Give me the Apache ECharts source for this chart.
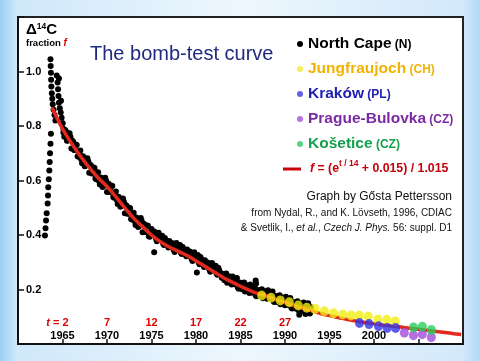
<!DOCTYPE html>
<html>
<head>
<meta charset="utf-8">
<script src="https://cdn.jsdelivr.net/npm/echarts@6/dist/echarts.min.js"></script>
<style>
html,body{margin:0;padding:0;}
body{width:480px;height:361px;overflow:hidden;
background:linear-gradient(to right,#9ccff3 0px,#cfe8fa 17px,#eef7fd 240px,#d3e9fa 462px,#b0daf7 480px);}
#c{width:480px;height:361px;}
</style>
</head>
<body>
<div id="c"></div>
<script>
// ---- data ----
const northCape = [
 [1963.03,0.398],[1963.09,0.425],[1963.15,0.453],[1963.22,0.48],[1963.33,0.516],[1963.37,0.545],[1963.4,0.575],[1963.46,0.605],[1963.52,0.637],[1963.56,0.668],[1963.6,0.70],[1963.65,0.735],[1963.7,0.772],
 [1963.65,1.045],[1963.67,1.02],[1963.7,0.995],[1963.72,0.97],[1963.75,0.945],[1963.8,0.92],[1963.85,0.90],[1963.9,0.88],[1964.0,0.86],[1964.1,0.84],[1964.2,0.82],[1964.35,0.985],[1964.45,0.96],[1964.5,0.935],[1964.55,0.91],[1964.6,0.885],[1964.7,0.865],[1964.8,0.85],[1964.9,0.83],[1965.0,0.81],[1965.1,0.79],[1965.2,0.775],[1964.6,0.974],[1964.83,0.893],
 [1965,0.81],[1965.2,0.761],[1965.4,0.78],[1965.6,0.747],[1965.8,0.773],
 [1966,0.717],[1966.2,0.742],[1966.4,0.712],[1966.6,0.73],[1966.8,0.687],
 [1967,0.71],[1967.2,0.663],[1967.4,0.684],[1967.6,0.654],[1967.8,0.682],
 [1968,0.628],[1968.2,0.655],[1968.4,0.627],[1968.6,0.646],[1968.8,0.605],
 [1969,0.63],[1969.2,0.585],[1969.4,0.608],[1969.6,0.579],[1969.8,0.61],
 [1970,0.558],[1970.2,0.587],[1970.4,0.56],[1970.6,0.58],[1970.8,0.537],
 [1971,0.56],[1971.2,0.514],[1971.4,0.536],[1971.6,0.506],[1971.8,0.534],
 [1972,0.48],[1972.2,0.507],[1972.4,0.479],[1972.6,0.498],[1972.8,0.457],
 [1973,0.482],[1973.2,0.437],[1973.4,0.46],[1973.6,0.432],[1973.8,0.462],
 [1974,0.41],[1974.2,0.439],[1974.4,0.413],[1974.6,0.434],[1974.8,0.394],
 [1975,0.422],[1975.2,0.399],[1975.4,0.404],[1975.6,0.377],[1975.8,0.408],
 [1976,0.383],[1976.2,0.397],[1976.4,0.363],[1976.6,0.381],[1976.8,0.372],
 [1977,0.378],[1977.2,0.356],[1977.4,0.363],[1977.6,0.338],[1977.8,0.371],
 [1978,0.348],[1978.2,0.363],[1978.4,0.33],[1978.6,0.349],[1978.8,0.34],
 [1979,0.347],[1979.2,0.325],[1979.4,0.331],[1979.6,0.305],[1979.8,0.337],
 [1980,0.313],[1980.2,0.327],[1980.4,0.293],[1980.6,0.311],[1980.8,0.301],
 [1981,0.307],[1981.2,0.285],[1981.4,0.291],[1981.6,0.265],[1981.8,0.297],
 [1982,0.273],[1982.2,0.287],[1982.4,0.254],[1982.6,0.272],[1982.8,0.261],
 [1983,0.257],[1983.2,0.234],[1983.4,0.259],[1983.6,0.231],[1983.8,0.248],
 [1984,0.218],[1984.2,0.243],[1984.4,0.22],[1984.6,0.242],[1984.8,0.203],
 [1985,0.224],[1985.2,0.201],[1985.4,0.226],[1985.6,0.199],[1985.8,0.216],
 [1986,0.187],[1986.2,0.213],[1986.4,0.19],[1986.6,0.214],[1986.8,0.175],[1986.7,0.233],[1986.75,0.222],
 [1987,0.197],[1987.2,0.175],[1987.4,0.201],[1987.6,0.175],[1987.8,0.194],
 [1988,0.166],[1988.2,0.192],[1988.4,0.169],[1988.6,0.193],[1988.8,0.154],
 [1989,0.175],[1989.2,0.153],[1989.4,0.179],[1989.6,0.153],[1989.8,0.17],
 [1990,0.142],[1990.2,0.168],[1990.4,0.145],[1990.6,0.169],[1990.8,0.13],
 [1991,0.152],[1991.2,0.13],[1991.4,0.157],[1991.6,0.131],[1991.8,0.149],
 [1992,0.121],[1992.2,0.147],[1992.4,0.126],[1992.6,0.15],[1992.8,0.112],
 [1975.3,0.337],[1980.1,0.262],[1991.6,0.107],[1992.3,0.11],
 [1965.1,0.776],[1965.3,0.785],[1965.5,0.746],[1965.7,0.758],[1965.9,0.760],
 [1966.1,0.746],[1966.3,0.712],[1966.5,0.732],[1966.7,0.689],[1966.9,0.698],
 [1967.1,0.678],[1967.3,0.689],[1967.5,0.652],[1967.7,0.666],[1967.9,0.670],
 [1968.1,0.658],[1968.3,0.626],[1968.5,0.648],[1968.7,0.607],[1968.9,0.618],
 [1969.1,0.598],[1969.3,0.611],[1969.5,0.576],[1969.7,0.592],[1969.9,0.599],
 [1970.1,0.589],[1970.3,0.558],[1970.5,0.582],[1970.7,0.539],[1970.9,0.548],
 [1971.1,0.528],[1971.3,0.540],[1971.5,0.504],[1971.7,0.518],[1971.9,0.522],
 [1972.1,0.510],[1972.3,0.478],[1972.5,0.500],[1972.7,0.459],[1972.9,0.470],
 [1973.1,0.451],[1973.3,0.464],[1973.5,0.429],[1973.7,0.445],[1973.9,0.451],
 [1974.1,0.441],[1974.3,0.411],[1974.5,0.435],[1974.7,0.395],[1974.9,0.407],
 [1975.1,0.410],[1975.3,0.413],[1975.5,0.386],[1975.7,0.392],[1975.9,0.394],
 [1976.1,0.391],[1976.3,0.369],[1976.5,0.389],[1976.7,0.367],[1976.9,0.354],
 [1977.1,0.366],[1977.3,0.371],[1977.5,0.345],[1977.7,0.353],[1977.9,0.357],
 [1978.1,0.356],[1978.3,0.335],[1978.5,0.356],[1978.7,0.335],[1978.9,0.322],
 [1979.1,0.335],[1979.3,0.339],[1979.5,0.313],[1979.7,0.320],[1979.9,0.323],
 [1980.1,0.321],[1980.3,0.299],[1980.5,0.319],[1980.7,0.297],[1980.9,0.283],
 [1981.1,0.295],[1981.3,0.299],[1981.5,0.273],[1981.7,0.280],[1981.9,0.283],
 [1982.1,0.281],[1982.3,0.260],[1982.5,0.280],[1982.7,0.258],[1982.9,0.243],
 [1983.1,0.249],[1983.3,0.256],[1983.5,0.225],[1983.7,0.243],[1983.9,0.230],
 [1984.1,0.248],[1984.3,0.219],[1984.5,0.230],[1984.7,0.207],[1984.9,0.226],
 [1985.1,0.217],[1985.3,0.224],[1985.5,0.193],[1985.7,0.212],[1985.9,0.199],
 [1986.1,0.218],[1986.3,0.189],[1986.5,0.201],[1986.7,0.179],[1986.9,0.198],
 [1987.1,0.190],[1987.3,0.198],[1987.5,0.168],[1987.7,0.188],[1987.9,0.177],
 [1988.1,0.197],[1988.3,0.168],[1988.5,0.180],[1988.7,0.157],[1988.9,0.176],
 [1989.1,0.168],[1989.3,0.176],[1989.5,0.146],[1989.7,0.166],[1989.9,0.153],
 [1990.1,0.173],[1990.3,0.144],[1990.5,0.156],[1990.7,0.134],[1990.9,0.153],
 [1991.1,0.145],[1991.3,0.154],[1991.5,0.124],[1991.7,0.144],[1991.9,0.132],
 [1992.1,0.152],[1992.3,0.125],[1992.5,0.137],[1992.7,0.115],[1992.9,0.135]
];
const jungfraujoch = [[1987.38,0.178],[1988.43,0.170],[1989.47,0.160],[1990.48,0.153],[1991.49,0.141],[1992.44,0.133],[1993.37,0.129],[1994.42,0.120],[1995.47,0.113],[1996.48,0.108],[1997.42,0.105],[1998.35,0.105],[1999.36,0.101],[2000.42,0.090],[2001.43,0.089],[2002.39,0.083]];
const krakow = [[1998.37,0.077],[1999.44,0.073],[2000.51,0.065],[2001.48,0.059],[2002.43,0.059]];
const prague = [[2003.41,0.041],[2004.44,0.032],[2005.43,0.036],[2006.44,0.025]];
const kosetice = [[2004.44,0.061],[2005.43,0.063],[2006.44,0.051]];
const fitYears = [1963.8,1964,1965,1966,1967,1968,1969,1970,1971,1972,1973,1974,1975,1976,1977,1978,1979,1980,1981,1982,1983,1984,1985,1986,1987,1988,1989,1990,1991,1992,1993,1994,1995,1996,1997,1998,1999,2000,2001,2002,2003,2004,2005,2006,2007,2008,2009,2009.8];
const fitValues = [0.867,0.855,0.79,0.737,0.69,0.648,0.61,0.578,0.54,0.50,0.462,0.43,0.40,0.375,0.356,0.34,0.325,0.305,0.285,0.265,0.245,0.228,0.212,0.197,0.185,0.176,0.163,0.152,0.141,0.131,0.122,0.112,0.104,0.097,0.09,0.084,0.079,0.074,0.07,0.066,0.062,0.058,0.054,0.05,0.046,0.042,0.038,0.035];
const yearLabels = [1965,1970,1975,1980,1985,1990,1995,2000];
const tLabels = ['2','7','12','17','22','27'];
const yLabels = ['0.2','0.4','0.6','0.8','1.0'];

const FF = 'Liberation Sans, Arial, sans-serif';
const chart = echarts.init(document.getElementById('c'), null, {renderer:'canvas'});
const legendTags = {
 'North Cape':['nc','North Cape','(N)'],
 'Jungfraujoch':['jf','Jungfraujoch','(CH)'],
 'Kraków':['kr','Kraków','(PL)'],
 'Prague-Bulovka':['pb','Prague-Bulovka','(CZ)'],
 'Košetice':['ko','Košetice','(CZ)']
};
const legCols = {nc:'#000000',jf:'#f2b300',kr:'#1f22b0',pb:'#7a2ba3',ko:'#14a04c'};
const rich1 = {};
Object.keys(legCols).forEach(k=>{
  rich1[k] = {color:legCols[k],fontSize:15.5,fontWeight:'bold',fontFamily:FF,lineHeight:16};
  rich1[k+'s'] = {color:legCols[k],fontSize:12,fontWeight:'bold',fontFamily:FF,lineHeight:16,padding:[2,0,0,0]};
});
const fitPoints = fitYears.map((y,i)=>[y,fitValues[i]]);

chart.setOption({
  animation:false,
  backgroundColor:'transparent',
  title:[
    {text:'The bomb-test curve',left:90,top:44,padding:0,
     textStyle:{fontSize:20,fontWeight:'normal',color:'#1f2a80',fontFamily:FF}},
    {text:'{a|Δ}{s|14}{a|C}\n{b|fraction }{f|f}',left:26,top:22,padding:0,
     textStyle:{rich:{
       a:{fontSize:15,fontWeight:'bold',color:'#000',fontFamily:FF,lineHeight:16},
       s:{fontSize:8.5,fontWeight:'bold',color:'#000',fontFamily:FF,lineHeight:9,verticalAlign:'top'},
       b:{fontSize:9.5,fontWeight:'bold',color:'#000',fontFamily:FF,lineHeight:11},
       f:{fontSize:10,fontWeight:'bold',fontStyle:'italic',color:'#e00000',fontFamily:FF,lineHeight:11}
     }}},
    {text:'Graph by Gősta Pettersson',right:28,top:191,padding:0,
     textStyle:{fontSize:12,fontWeight:'normal',color:'#111',fontFamily:FF}},
    {text:'from Nydal, R., and K. Lövseth, 1996, CDIAC',right:28,top:208,padding:0,
     textStyle:{fontSize:10,fontWeight:'normal',color:'#111',fontFamily:FF}},
    {text:'& Svetlik, I., {i|et al.}, {i|Czech J. Phys.} 56: suppl. D1',right:28,top:223,padding:0,
     textStyle:{fontSize:10,fontWeight:'normal',color:'#111',fontFamily:FF,
       rich:{i:{fontSize:10,fontStyle:'italic',color:'#111',fontFamily:FF}}}}
  ],
  legend:[
    {orient:'vertical',left:297,top:36,padding:0,itemWidth:6,itemHeight:6,itemGap:9,selectedMode:false,
     data:[
      {name:'North Cape',icon:'circle',itemStyle:{color:'#000'}},
      {name:'Jungfraujoch',icon:'circle',itemStyle:{color:'#eeee30'}},
      {name:'Kraków',icon:'circle',itemStyle:{color:'#3838e0'}},
      {name:'Prague-Bulovka',icon:'circle',itemStyle:{color:'#a84ee0'}},
      {name:'Košetice',icon:'circle',itemStyle:{color:'#2ccc60'}}
     ],
     formatter:function(n){const t=legendTags[n];return '{'+t[0]+'|'+t[1]+'} {'+t[0]+'s|'+t[2]+'}';},
     textStyle:{rich:rich1}},
    {orient:'vertical',left:283,top:159,padding:0,itemWidth:18,itemHeight:3,selectedMode:false,
     data:[{name:'fit',icon:'rect',itemStyle:{color:'#c8000a'}}],
     formatter:function(){return '{fi|f}{fr| = (e}{fs|t / 14}{fr| + 0.015) / 1.015}';},
     textStyle:{rich:{
       fi:{fontSize:12.3,fontWeight:'bold',fontStyle:'italic',color:'#c8000a',fontFamily:FF,lineHeight:20,padding:[0,0,0,4]},
       fr:{fontSize:12.3,fontWeight:'bold',color:'#c8000a',fontFamily:FF,lineHeight:20},
       fs:{fontSize:8.5,fontWeight:'bold',color:'#c8000a',fontFamily:FF,lineHeight:10,verticalAlign:'top'}
     }}}
  ],
  grid:{left:18,right:17,top:17,bottom:17,show:true,backgroundColor:'#ffffff',borderColor:'#222',borderWidth:2},
  xAxis:{type:'value',min:1960,max:2010,interval:5,
    axisLine:{show:true,lineStyle:{color:'#111',width:2}},
    axisTick:{show:true,inside:true,length:5,lineStyle:{color:'#111',width:1.5}},
    splitLine:{show:false},
    axisLabel:{inside:true,margin:2,
      formatter:function(v){
        const i = yearLabels.indexOf(v);
        if(i<0) return '';
        let s='';
        if(i<tLabels.length){
          s = (i===0 ? '{ti|t}{t| = '+tLabels[i]+'}{pad| }' : '{t|'+tLabels[i]+'}') + '\n';
        }
        return s+'{y|'+v+'}';
      },
      rich:{
        ti:{fontSize:11,fontWeight:'bold',fontStyle:'italic',color:'#e00000',fontFamily:FF,lineHeight:12.5},
        t:{fontSize:11,fontWeight:'bold',color:'#e00000',fontFamily:FF,lineHeight:12.5},
        pad:{width:10,lineHeight:12.5},
        y:{fontSize:11,fontWeight:'bold',color:'#000',fontFamily:FF,lineHeight:12.5}
      }}},
  yAxis:{type:'value',min:0,max:1.2,interval:0.2,
    axisLine:{show:true,lineStyle:{color:'#111',width:2}},
    axisTick:{show:true,inside:true,length:6,lineStyle:{color:'#111',width:1.5}},
    splitLine:{show:false},
    axisLabel:{inside:true,margin:8,fontSize:11,fontWeight:'bold',color:'#000',fontFamily:FF,
      formatter:function(v){const s=v.toFixed(1);return yLabels.indexOf(s)>=0?s:'';}}},
  series:[
    {name:'North Cape',type:'scatter',data:northCape,symbolSize:6,itemStyle:{color:'#000',opacity:1},z:2,silent:true},
    {name:'fit',type:'line',data:fitPoints,smooth:true,showSymbol:false,lineStyle:{color:'#e3281c',width:3.5},itemStyle:{color:'#e3281c'},z:3,silent:true},
    {name:'Jungfraujoch',type:'scatter',data:jungfraujoch,symbolSize:[9,10],itemStyle:{color:'#f2ee12'},z:4,silent:true},
    {name:'Kraków',type:'scatter',data:krakow,symbolSize:[9,10],itemStyle:{color:'#3535e6'},z:4,silent:true},
    {name:'Prague-Bulovka',type:'scatter',data:prague,symbolSize:[9,10],itemStyle:{color:'#a24bdc'},z:4,silent:true},
    {name:'Košetice',type:'scatter',data:kosetice,symbolSize:[9,10],itemStyle:{color:'#28d05a'},z:5,silent:true}
  ]
});
</script>
</body>
</html>
